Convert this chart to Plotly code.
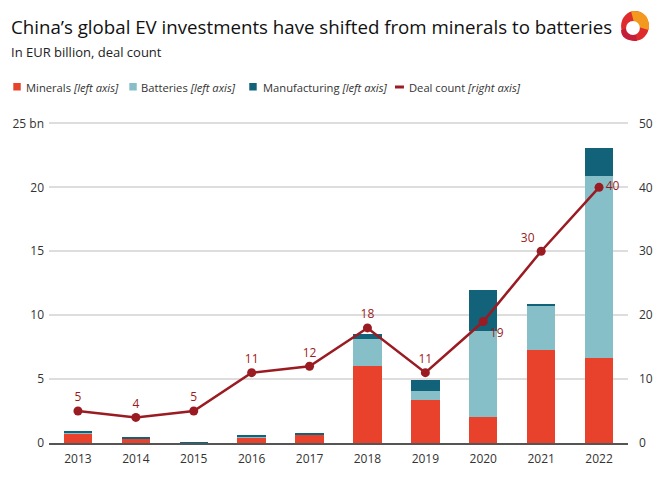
import plotly.graph_objects as go

years = ["2013", "2014", "2015", "2016", "2017", "2018", "2019", "2020", "2021", "2022"]
minerals = [0.74, 0.36, 0.02, 0.44, 0.63, 6.0, 3.4, 2.0, 7.3, 6.65]
batteries = [0.02, 0.01, 0.0, 0.03, 0.02, 2.1, 0.7, 6.8, 3.45, 14.2]
manufacturing = [0.2, 0.1, 0.04, 0.08, 0.15, 0.45, 0.85, 3.2, 0.15, 2.25]
deals = [5, 4, 5, 11, 12, 18, 11, 19, 30, 40]
deal_pos = ["top center"] * 7 + ["bottom right", "top left", "middle right"]

C_MIN = "#e8412c"
C_BAT = "#86bfc8"
C_MAN = "#12627a"
C_LINE = "#9b1b22"
FONT = "Open Sans"

W, H = 665, 486
ML, MR, MT, MB = 47, 34, 117, 43
PW, PH = W - ML - MR, H - MT - MB


def px(x):
    return (x - ML) / PW


def py(y):
    return (H - MB - y) / PH


fig = go.Figure()
fig.add_bar(x=years, y=minerals, name="Minerals", marker_color=C_MIN,
            marker_line_width=0, yaxis="y")
fig.add_bar(x=years, y=batteries, name="Batteries", marker_color=C_BAT,
            marker_line_width=0, yaxis="y")
fig.add_bar(x=years, y=manufacturing, name="Manufacturing", marker_color=C_MAN,
            marker_line_width=0, yaxis="y")
fig.add_scatter(x=years, y=deals, mode="lines+markers+text", text=[str(d) for d in deals],
                name="Deal count",
                textposition=deal_pos, textfont=dict(color=C_LINE, size=12, family=FONT),
                line=dict(color=C_LINE, width=2.5), marker=dict(size=9, color=C_LINE),
                yaxis="y2", cliponaxis=False)

annotations = [
    dict(text="China’s global EV investments have shifted from minerals to batteries",
         xref="paper", yref="paper", x=px(7), y=py(26), xanchor="left", yanchor="middle",
         showarrow=False, font=dict(size=18.7, color="#111111")),
    dict(text="In EUR billion, deal count", xref="paper", yref="paper",
         x=px(7), y=py(52), xanchor="left", yanchor="middle", showarrow=False,
         font=dict(size=13, color="#222222")),
]

legend_items = [
    ("Minerals", "<i>[left axis]</i>", C_MIN, 11, 22, "sq"),
    ("Batteries", "<i>[left axis]</i>", C_BAT, 128, 138, "sq"),
    ("Manufacturing", "<i>[left axis]</i>", C_MAN, 249, 261, "sq"),
    ("Deal count", "<i>[right axis]</i>", C_LINE, 396, 408, "line"),
]
shapes = []
LY = 87
for name, tag, col, kx, tx, kind in legend_items:
    annotations.append(dict(text=f"{name} {tag}", xref="paper", yref="paper",
                            x=px(tx), y=py(LY), xanchor="left", yanchor="middle",
                            showarrow=False, font=dict(size=11.2, color="#333333")))
    if kind == "sq":
        shapes.append(dict(type="rect", xref="paper", yref="paper",
                           x0=px(kx), x1=px(kx + 7.5), y0=py(LY + 3.5), y1=py(LY - 4),
                           fillcolor=col, line_width=0))
    else:
        shapes.append(dict(type="line", xref="paper", yref="paper",
                           x0=px(kx), x1=px(kx + 9), y0=py(LY), y1=py(LY),
                           line=dict(color=col, width=3)))

# logo
cx, cy, r = 638, 26, 14
shapes.append(dict(type="circle", xref="paper", yref="paper",
                   x0=px(cx - r), x1=px(cx + r), y0=py(cy + r + 1), y1=py(cy - r - 1),
                   fillcolor="#de2c2c", line_width=0))
shapes.append(dict(type="path", xref="paper", yref="paper",
                   path=f"M {px(cx)},{py(cy)} L {px(cx - 4)},{py(cy - r - 1)} "
                        f"Q {px(cx + r + 2)},{py(cy - r - 2)} {px(cx + r)},{py(cy + 4)} Z",
                   fillcolor="#f39a1e", line_width=0))
shapes.append(dict(type="path", xref="paper", yref="paper",
                   path=f"M {px(cx)},{py(cy)} L {px(cx - r)},{py(cy + 4)} "
                        f"Q {px(cx - r)},{py(cy + r + 1)} {px(cx + 2)},{py(cy + r + 1)} Z",
                   fillcolor="#c41e3a", line_width=0))
shapes.append(dict(type="circle", xref="paper", yref="paper",
                   x0=px(cx - 9), x1=px(cx + 5), y0=py(cy + 9), y1=py(cy - 5),
                   fillcolor="white", line_width=0))

fig.update_layout(
    width=W, height=H,
    barmode="stack", bargap=0.51,
    showlegend=False,
    paper_bgcolor="white", plot_bgcolor="white",
    margin=dict(l=ML, r=MR, t=MT, b=MB),
    font=dict(family=FONT, size=12, color="#333333"),
    annotations=annotations,
    shapes=shapes,
    xaxis=dict(type="category", range=[-0.5, 9.5], showgrid=False, showline=True,
               linecolor="#555555", linewidth=1.5, ticks="",
               tickfont=dict(size=12, color="#333333"), ticklabelstandoff=4),
    yaxis=dict(range=[0, 25.5], tickvals=[0, 5, 10, 15, 20, 25],
               ticktext=["0", "5", "10", "15", "20", "25 bn"],
               showgrid=True, gridcolor="#dddddd", gridwidth=1.5, zeroline=False,
               ticks="", tickfont=dict(size=12, color="#333333"), ticklabelstandoff=4),
    yaxis2=dict(range=[0, 51], tickvals=[0, 10, 20, 30, 40, 50], overlaying="y", side="right",
                showgrid=False, zeroline=False, ticks="", tickfont=dict(size=12, color="#333333"),
                ticklabelstandoff=10),
)

fig.write_html("out.html")
